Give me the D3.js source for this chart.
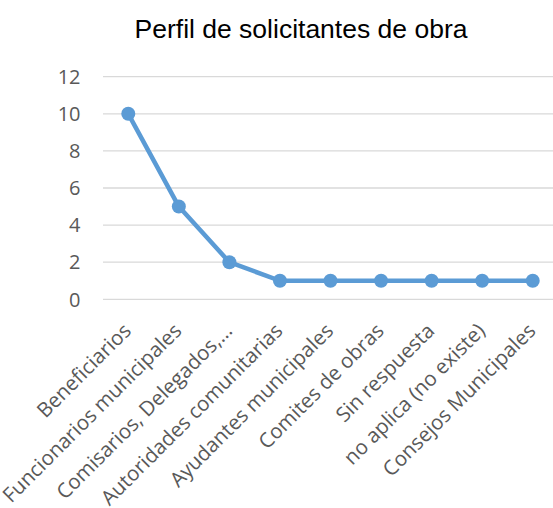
<!DOCTYPE html>
<html>
<head>
<meta charset="utf-8">
<script src="https://cdn.jsdelivr.net/npm/d3@7"></script>
<style>
  body { margin: 0; background: #fff; overflow: hidden; }
</style>
</head>
<body>
<svg></svg>
<script>
var categories = ['Beneficiarios', 'Funcionarios municipales', 'Comisarios, Delegados,…',
  'Autoridades comunitarias', 'Ayudantes municipales', 'Comites de obras',
  'Sin respuesta', 'no aplica (no existe)', 'Consejos Municipales'];
var values = [10, 5, 2, 1, 1, 1, 1, 1, 1];
var yTicks = [0, 2, 4, 6, 8, 10, 12];

var width = 553;
var height = 508;
var plotLeft = 103, plotRight = 558, plotTop = 76.7, plotBottom = 299.3;

var svg = d3.select('svg')
  .attr('width', width)
  .attr('height', height);

var x = d3.scalePoint()
  .domain(categories)
  .range([plotLeft, plotRight])
  .padding(0.5);

var y = d3.scaleLinear()
  .domain([0, 12])
  .range([plotBottom, plotTop]);

svg.append('text')
  .attr('x', 301)
  .attr('y', 38)
  .attr('text-anchor', 'middle')
  .style('font-family', 'Liberation Sans, Arial, sans-serif')
  .style('font-size', '26.5px')
  .attr('fill', '#000')
  .text('Perfil de solicitantes de obra');

// gridlines
svg.append('g')
  .selectAll('line')
  .data(yTicks)
  .enter().append('line')
  .attr('x1', plotLeft)
  .attr('x2', plotRight)
  .attr('y1', function(d) { return y(d); })
  .attr('y2', function(d) { return y(d); })
  .attr('stroke', '#d9d9d9')
  .attr('stroke-width', 1.3);

// y axis labels
svg.append('g')
  .selectAll('text')
  .data(yTicks)
  .enter().append('text')
  .attr('x', 80.5)
  .attr('y', function(d) { return y(d); })
  .attr('dy', '0.36em')
  .attr('text-anchor', 'end')
  .style('font-family', 'Open Sans, sans-serif')
  .style('font-size', '20px')
  .attr('fill', '#595959')
  .text(function(d) { return d; });

// x labels
svg.append('g')
  .selectAll('text')
  .data(categories)
  .enter().append('text')
  .attr('transform', function(d) { return 'translate(' + (x(d) - 1) + ',327) rotate(-45)'; })
  .attr('text-anchor', 'end')
  .attr('dy', '0.35em')
  .style('font-family', 'Open Sans, sans-serif')
  .style('font-size', '20.5px')
  .attr('fill', '#595959')
  .text(function(d) { return d; });

var line = d3.line()
  .x(function(d, i) { return x(categories[i]); })
  .y(function(d) { return y(d); });

svg.append('path')
  .datum(values)
  .attr('d', line)
  .attr('fill', 'none')
  .attr('stroke', '#5b9bd5')
  .attr('stroke-width', 4.5)
  .attr('stroke-linejoin', 'round');

svg.append('g')
  .selectAll('circle')
  .data(values)
  .enter().append('circle')
  .attr('cx', function(d, i) { return x(categories[i]); })
  .attr('cy', function(d) { return y(d); })
  .attr('r', 7)
  .attr('fill', '#5b9bd5');
</script>
</body>
</html>
